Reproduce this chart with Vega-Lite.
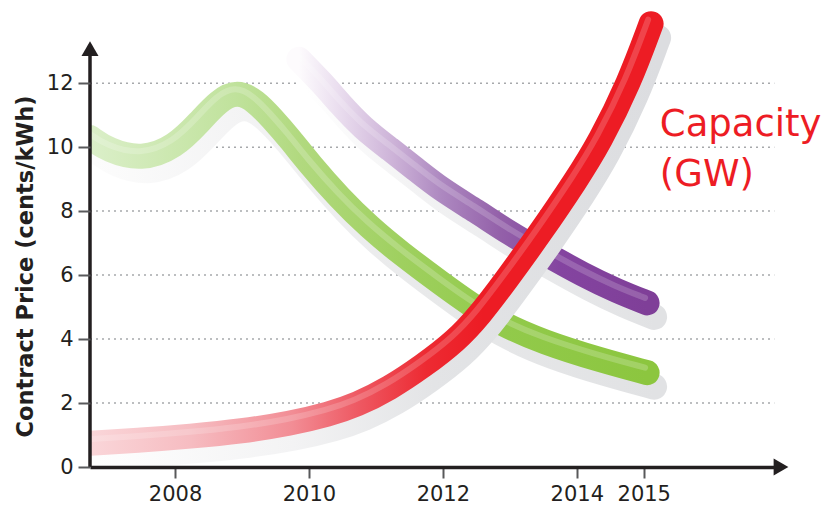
{
  "$schema": "https://vega.github.io/schema/vega-lite/v6.json",
  "autosize": "none",
  "width": 691,
  "height": 467,
  "padding": {"left": 90, "top": 0, "right": 47, "bottom": 41},
  "background": "#ffffff",
  "config": {"view": {"stroke": null}},
  "datasets": {
    "green": [
      {"year": 2006.73, "value": 10.3}, {"year": 2007.0, "value": 9.9}, {"year": 2007.5, "value": 9.6},
      {"year": 2008.0, "value": 10.0}, {"year": 2008.37, "value": 10.8}, {"year": 2008.65, "value": 11.45},
      {"year": 2008.93, "value": 11.75}, {"year": 2009.2, "value": 11.45}, {"year": 2009.45, "value": 10.9},
      {"year": 2009.72, "value": 10.25}, {"year": 2010.0, "value": 9.5}, {"year": 2010.46, "value": 8.4},
      {"year": 2010.9, "value": 7.5}, {"year": 2011.36, "value": 6.7}, {"year": 2012.0, "value": 5.7},
      {"year": 2012.4, "value": 5.1}, {"year": 2012.85, "value": 4.5}, {"year": 2013.5, "value": 3.9},
      {"year": 2014.34, "value": 3.35}, {"year": 2015.05, "value": 2.95}
    ],
    "purple": [
      {"year": 2009.85, "value": 12.75}, {"year": 2010.2, "value": 12.0}, {"year": 2010.46, "value": 11.36},
      {"year": 2010.8, "value": 10.6}, {"year": 2011.21, "value": 9.94}, {"year": 2011.6, "value": 9.3},
      {"year": 2011.96, "value": 8.7}, {"year": 2012.5, "value": 8.0}, {"year": 2013.0, "value": 7.3},
      {"year": 2013.5, "value": 6.7}, {"year": 2014.1, "value": 6.0}, {"year": 2014.6, "value": 5.5},
      {"year": 2015.05, "value": 5.13}
    ],
    "red": [
      {"year": 2006.73, "value": 0.74}, {"year": 2007.5, "value": 0.84}, {"year": 2008.22, "value": 0.96},
      {"year": 2009.0, "value": 1.12}, {"year": 2009.72, "value": 1.36}, {"year": 2010.3, "value": 1.65},
      {"year": 2010.71, "value": 1.94}, {"year": 2011.2, "value": 2.45}, {"year": 2011.7, "value": 3.15},
      {"year": 2012.2, "value": 3.95}, {"year": 2012.55, "value": 4.75}, {"year": 2012.93, "value": 5.8},
      {"year": 2013.45, "value": 7.3}, {"year": 2014.0, "value": 9.0}, {"year": 2014.34, "value": 10.15},
      {"year": 2014.78, "value": 12.0}, {"year": 2015.11, "value": 13.86}
    ],
    "grid": [
      {"year": 2006.73, "year2": 2016.95, "value": 2}, {"year": 2006.73, "year2": 2016.95, "value": 4},
      {"year": 2006.73, "year2": 2016.95, "value": 6}, {"year": 2006.73, "year2": 2016.95, "value": 8},
      {"year": 2006.73, "year2": 2016.95, "value": 10}, {"year": 2006.73, "year2": 2016.95, "value": 12}
    ],
    "yaxis": [
      {"year": 2006.73, "value": 0, "value2": 13.2}
    ],
    "arrows": [
      {"year": 2006.73, "value": 13.08, "shape": "triangle-up"},
      {"year": 2017.05, "value": 0, "shape": "triangle-right"}
    ],
    "labels": [
      {"year": 2015.24, "value": 10.34, "label": "Capacity"},
      {"year": 2015.24, "value": 8.77, "label": "(GW)"}
    ]
  },
  "encoding": {
    "x": {"field": "year", "type": "quantitative",
      "scale": {"domain": [2006.73, 2017.05], "nice": false, "zero": false},
      "axis": {"values": [2008, 2010, 2012, 2014, 2015], "format": "d", "labelFont": "DejaVu Sans", "labelFontSize": 21,
        "labelColor": "#231f20", "tickColor": "#58595b", "tickWidth": 2, "tickSize": 11, "domainColor": "#231f20",
        "domainWidth": 3.5, "grid": false, "labelPadding": 5, "title": null, "labelOverlap": false, "labelFlush": false, "zindex": 1}},
    "y": {"field": "value", "type": "quantitative",
      "scale": {"domain": [0, 14.6], "nice": false, "zero": false},
      "axis": {"values": [0, 2, 4, 6, 8, 10, 12], "labelFont": "DejaVu Sans", "labelFontSize": 21, "labelColor": "#231f20",
        "tickColor": "#58595b", "tickWidth": 2, "tickSize": 12, "domain": false,
        "grid": false, "labelPadding": 5, "zindex": 1,
        "title": "Contract Price (cents/kWh)", "titleFont": "DejaVu Sans", "titleFontSize": 22.5, "titleFontWeight": "bold",
        "titleColor": "#231f20", "titleX": -58, "titleY": 266, "titleAngle": -90, "titleBaseline": "alphabetic", "titleAlign": "center"}}
  },
  "layer": [
    {"data": {"name": "grid"},
     "mark": {"type": "rule", "strokeDash": [2, 4], "stroke": "#a7a9ac", "strokeWidth": 1.5},
     "encoding": {"x2": {"field": "year2"}}},
    {"data": {"name": "green"},
     "mark": {"type": "line", "interpolate": "basis", "clip": true, "strokeWidth": 26, "strokeCap": "round", "xOffset": 7, "yOffset": 14,
       "stroke": {"gradient": "linear", "x1": 0, "y1": 0, "x2": 1, "y2": 0,
         "stops": [{"offset": 0, "color": "#fcfcfc"}, {"offset": 0.3, "color": "#f2f2f3"}, {"offset": 0.6, "color": "#e8e9ea"}, {"offset": 1, "color": "#e1e2e4"}]}}},
    {"data": {"name": "green"},
     "mark": {"type": "line", "interpolate": "basis", "clip": true, "strokeWidth": 25, "strokeCap": "round",
       "stroke": {"gradient": "linear", "x1": 0, "y1": 0, "x2": 1, "y2": 0,
         "stops": [{"offset": 0, "color": "#dbefc9"}, {"offset": 0.26, "color": "#c0e29c"}, {"offset": 0.38, "color": "#b1d97e"},
           {"offset": 0.56, "color": "#9fd05f"}, {"offset": 0.74, "color": "#92ca4b"}, {"offset": 1, "color": "#8cc63f"}]}}},
    {"data": {"name": "green"},
     "mark": {"type": "line", "interpolate": "basis", "clip": true, "strokeWidth": 6, "strokeCap": "round", "xOffset": -2, "yOffset": -5,
       "stroke": "#ffffff", "strokeOpacity": 0.2}},
    {"data": {"name": "purple"},
     "mark": {"type": "line", "interpolate": "basis", "clip": true, "strokeWidth": 26, "strokeCap": "round", "xOffset": 7, "yOffset": 14,
       "stroke": {"gradient": "linear", "x1": 0, "y1": 0, "x2": 1, "y2": 0,
         "stops": [{"offset": 0, "color": "#ffffff"}, {"offset": 0.3, "color": "#f3f3f4"}, {"offset": 1, "color": "#e1e2e4"}]}}},
    {"data": {"name": "purple"},
     "mark": {"type": "line", "interpolate": "basis", "clip": true, "strokeWidth": 25, "strokeCap": "round",
       "stroke": {"gradient": "linear", "x1": 0, "y1": 0, "x2": 1, "y2": 0,
         "stops": [{"offset": 0, "color": "#fdfbfd"}, {"offset": 0.12, "color": "#e9dcee"}, {"offset": 0.27, "color": "#cdb3d8"},
           {"offset": 0.41, "color": "#ad88c0"}, {"offset": 0.58, "color": "#9360a9"}, {"offset": 0.75, "color": "#8444a0"},
           {"offset": 1, "color": "#7f3f98"}]}}},
    {"data": {"name": "purple"},
     "mark": {"type": "line", "interpolate": "basis", "clip": true, "strokeWidth": 6, "strokeCap": "round", "xOffset": -2, "yOffset": -5,
       "stroke": "#ffffff", "strokeOpacity": 0.18}},
    {"data": {"name": "red"},
     "mark": {"type": "line", "interpolate": "basis", "clip": true, "strokeWidth": 26, "strokeCap": "round", "xOffset": 7, "yOffset": 14,
       "stroke": {"gradient": "linear", "x1": 0, "y1": 0, "x2": 1, "y2": 0,
         "stops": [{"offset": 0, "color": "#fefefe"}, {"offset": 0.35, "color": "#f3f3f4"}, {"offset": 0.6, "color": "#e3e4e6"}, {"offset": 1, "color": "#dcdde0"}]}}},
    {"data": {"name": "red"},
     "mark": {"type": "line", "interpolate": "basis", "clip": true, "strokeWidth": 25, "strokeCap": "round",
       "stroke": {"gradient": "linear", "x1": 0, "y1": 0, "x2": 1, "y2": 0,
         "stops": [{"offset": 0, "color": "#fad6d9"}, {"offset": 0.18, "color": "#f6bcc1"}, {"offset": 0.36, "color": "#f28d95"},
           {"offset": 0.48, "color": "#ee5862"}, {"offset": 0.6, "color": "#ed2a32"}, {"offset": 0.7, "color": "#ed1c24"},
           {"offset": 1, "color": "#ed1c24"}]}}},
    {"data": {"name": "red"},
     "mark": {"type": "line", "interpolate": "basis", "clip": true, "strokeWidth": 6, "strokeCap": "round", "xOffset": -3, "yOffset": -4,
       "stroke": "#ffffff", "strokeOpacity": 0.18}},
    {"data": {"name": "yaxis"},
     "mark": {"type": "rule", "stroke": "#231f20", "strokeWidth": 3.5},
     "encoding": {"y2": {"field": "value2"}}},
    {"data": {"name": "arrows"},
     "mark": {"type": "point", "filled": true, "size": 289, "color": "#231f20", "opacity": 1},
     "encoding": {"shape": {"field": "shape", "type": "nominal", "scale": null}}},
    {"data": {"name": "labels"},
     "mark": {"type": "text", "align": "left", "baseline": "alphabetic", "font": "DejaVu Sans", "fontSize": 37, "color": "#ed1c24"},
     "encoding": {"text": {"field": "label", "type": "nominal"}}}
  ]
}
